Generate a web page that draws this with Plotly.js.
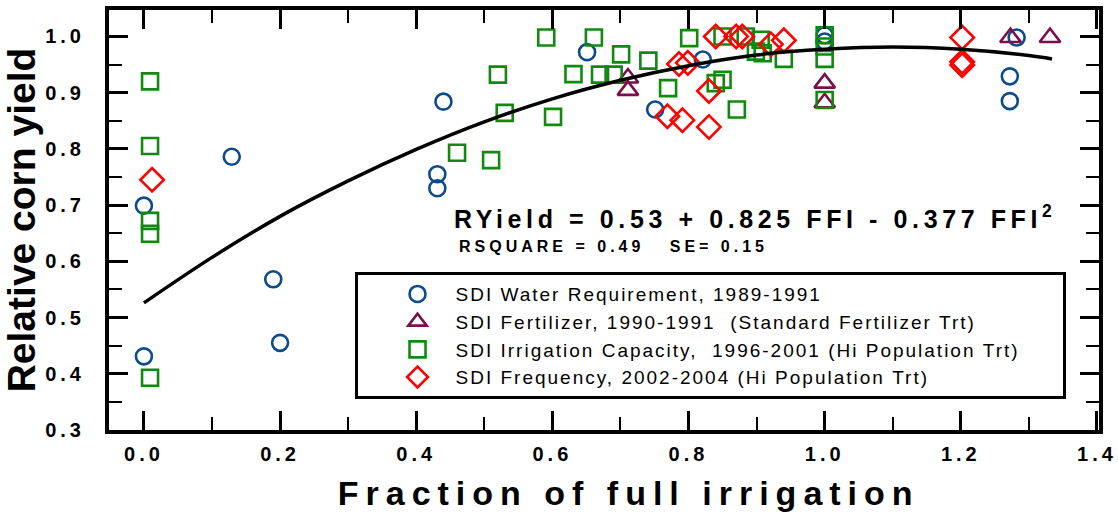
<!DOCTYPE html>
<html>
<head>
<meta charset="utf-8">
<script src="https://cdn.plot.ly/plotly-3.0.1.min.js"></script>
<style>
  html, body { margin: 0; padding: 0; background: #fff; }
  #chart { width: 1118px; height: 514px; }
  .xtick text, .ytick text { letter-spacing: 4px; }
</style>
</head>
<body>
<div id="chart"></div>
<script>
// ---- data ----
const waterX = [0.0, 0.0, 0.129, 0.190, 0.200, 0.431, 0.431, 0.440, 0.651, 0.751, 0.821, 1.0, 1.0, 1.272, 1.272, 1.282];
const waterY = [0.699, 0.431, 0.786, 0.568, 0.455, 0.755, 0.730, 0.884, 0.972, 0.870, 0.959, 1.002, 0.991, 0.929, 0.885, 0.998];

const fertX = [0.711, 0.711, 1.0, 1.0, 1.273, 1.331];
const fertY = [0.926, 0.904, 0.917, 0.882, 0.998, 0.998];

const capX = [0.009, 0.009, 0.009, 0.009, 0.009, 0.460, 0.510, 0.520, 0.530, 0.591, 0.601, 0.631, 0.661, 0.670, 0.690, 0.701, 0.741, 0.770, 0.801, 0.840, 0.850, 0.850, 0.871, 0.884, 0.899, 0.906, 0.909, 0.940, 1.0, 1.0, 1.0, 1.0];
const capY = [0.920, 0.805, 0.672, 0.649, 0.393, 0.793, 0.780, 0.932, 0.864, 0.998, 0.857, 0.933, 0.998, 0.932, 0.932, 0.968, 0.957, 0.908, 0.997, 0.917, 0.923, 1.000, 0.870, 1.000, 0.973, 0.994, 0.970, 0.960, 1.002, 0.982, 0.960, 0.887];

const freqX = [0.012, 0.769, 0.791, 0.786, 0.799, 0.830, 0.830, 0.840, 0.870, 0.879, 0.921, 0.940, 1.202, 1.202, 1.202];
const freqY = [0.745, 0.858, 0.851, 0.951, 0.953, 0.903, 0.839, 1.000, 1.000, 1.000, 0.986, 0.993, 0.998, 0.955, 0.949];

// fitted curve, values
const fitX = [0.0, 0.1, 0.2, 0.3, 0.4, 0.5, 0.6, 0.7, 0.8, 0.9, 1.0, 1.1, 1.2, 1.3, 1.334];
const fitY = [0.526, 0.607, 0.680, 0.743, 0.799, 0.848, 0.889, 0.922, 0.948, 0.967, 0.977, 0.981, 0.977, 0.966, 0.960];

const seriesNames = [
  'SDI Water Requirement, 1989-1991',
  'SDI Fertilizer, 1990-1991  (Standard Fertilizer Trt)',
  'SDI Irrigation Capacity,  1996-2001 (Hi Population Trt)',
  'SDI Frequency, 2002-2004 (Hi Population Trt)'
];
const eqText = 'RYield = 0.53 + 0.825 FFI - 0.377 FFI<sup>2</sup>';
const statText = 'RSQUARE = 0.49   SE= 0.15';
const xTitle = 'Fraction of full irrigation';
const yTitle = 'Relative corn yield';

// ---- styling ----
const FONT = '"Liberation Sans", Arial, Helvetica, sans-serif';
const sp = (t, ls) => '<span style="letter-spacing:' + ls + 'px">' + t.replace(/ /g, '&nbsp;') + '</span>';

function mk(x, y, name, symbol, color, size, pad) {
  return {
    x: x, y: y, type: 'scatter', mode: 'markers',
    name: sp(name, 2.0) + (pad || ''),
    marker: { symbol: symbol, size: size, color: color, line: { color: color, width: 2.6 } },
    cliponaxis: false
  };
}

const traces = [
  mk(waterX, waterY, seriesNames[0], 'circle-open', '#0d4a8c', 16),
  mk(fertX, fertY, seriesNames[1], 'triangle-up-open', '#7b0f4b', 18),
  mk(capX, capY, seriesNames[2], 'square-open', '#0f8a0f', 16, '&nbsp;&nbsp;&nbsp;&nbsp;&nbsp;&nbsp;&nbsp;'),
  mk(freqX, freqY, seriesNames[3], 'diamond-open', '#ff0000', 18),
  {
    x: fitX, y: fitY, type: 'scatter', mode: 'lines', showlegend: false,
    line: { color: '#000', width: 3.5, shape: 'spline' }, hoverinfo: 'skip'
  }
];

const axisCommon = {
  showline: true, linecolor: '#000', linewidth: 4, mirror: 'ticks',
  showgrid: false, zeroline: false,
  ticks: 'inside', ticklen: 19, tickwidth: 3, tickcolor: '#000',
  tickfont: { family: FONT, size: 20, color: '#000', weight: 'bold' },
  minor: { ticks: 'inside', ticklen: 13, tickwidth: 2, tickcolor: '#000', showgrid: false }
};

const layout = {
  width: 1118, height: 514,
  margin: { l: 109, r: 19, t: 10, b: 84 },
  paper_bgcolor: '#fff', plot_bgcolor: '#fff',
  font: { family: FONT, color: '#000' },
  showlegend: true,
  xaxis: Object.assign({}, axisCommon, {
    range: [-0.0513, 1.403], tick0: 0, dtick: 0.2, tickformat: '.1f',
    ticklabelstandoff: 3,
    minor: Object.assign({}, axisCommon.minor, { dtick: 0.1 }),
    title: { text: '<span style="letter-spacing:7px">&nbsp;&nbsp;&nbsp;' + xTitle.replace(/ /g, '&nbsp;') + '</span>', standoff: 18,
             font: { family: FONT, size: 34, color: '#000', weight: 'bold' } }
  }),
  yaxis: Object.assign({}, axisCommon, {
    range: [0.3, 1.047], tick0: 0.3, dtick: 0.1, tickformat: '.1f',
    ticklabelstandoff: 16,
    minor: Object.assign({}, axisCommon.minor, { dtick: 0.05 }),
    title: { text: yTitle, standoff: 8,
             font: { family: FONT, size: 39, color: '#000', weight: 'bold' } }
  }),
  legend: {
    x: 0.248, y: 0.376, xanchor: 'left', yanchor: 'top',
    bgcolor: '#fff', bordercolor: '#000', borderwidth: 3,
    font: { family: FONT, size: 19, color: '#000' },
    itemwidth: 66, indentation: 22, tracegroupgap: 0
  },
  annotations: [
    { xref: 'paper', yref: 'paper', x: 0.346, y: 0.507, xanchor: 'left', yanchor: 'middle',
      text: sp(eqText, 4.6), showarrow: false,
      font: { family: FONT, size: 25, color: '#000', weight: 'bold' } },
    { xref: 'paper', yref: 'paper', x: 0.352, y: 0.438, xanchor: 'left', yanchor: 'middle',
      text: sp(statText, 4), showarrow: false,
      font: { family: FONT, size: 16, color: '#000', weight: 'bold' } }
  ]
};

Plotly.newPlot('chart', traces, layout, { displayModeBar: false, staticPlot: true });
</script>
</body>
</html>
